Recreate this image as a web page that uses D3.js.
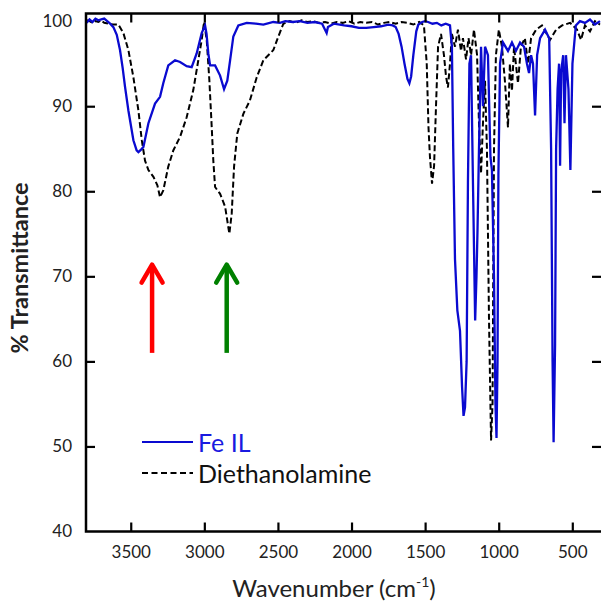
<!DOCTYPE html>
<html><head><meta charset="utf-8">
<script src="https://cdn.jsdelivr.net/npm/d3@7"></script>
<style>
html,body{margin:0;padding:0;background:#fff;}
text{font-family:Lato,"Open Sans",sans-serif;}
</style></head>
<body><svg id="chart" width="601" height="604"></svg>
<script>
// ---- data ----
const xTicks = [3500, 3000, 2500, 2000, 1500, 1000, 500];
const yTicks = [40, 50, 60, 70, 80, 90, 100];
const seriesNames = ["Fe IL", "Diethanolamine"];
const arrowWavenumbers = [3355, 2848];
const arrowRange = [61, 71.5];

// Fe IL: [wavenumber, %T]
const feIL = [
[3800,99.8],[3780,100.2],[3760,99.9],[3740,100.3],[3720,100.1],[3700,100.2],[3680,100.3],[3660,100.0],[3640,99.7],
[3618,99.3],[3595,98.4],[3573,96.6],[3555,94.5],[3539,92.3],[3516,89.5],[3482,86.0],[3460,84.8],[3448,84.6],[3430,84.9],
[3414,85.2],[3380,88.0],[3335,90.3],[3301,91.1],[3279,92.7],[3245,94.8],[3199,95.4],[3165,95.2],[3120,94.7],[3086,94.6],
[3052,96.2],[3018,98.6],[2995,99.5],[2985,98.5],[2973,96.2],[2961,94.8],[2927,94.8],[2893,93.6],[2866,92.0],[2844,93.0],
[2825,95.4],[2803,98.2],[2769,99.5],[2712,99.8],[2650,99.7],[2599,99.6],[2531,99.9],[2486,99.8],[2450,100.0],[2400,99.9],
[2350,100.0],[2300,99.8],[2250,99.9],[2200,99.7],[2180,99.0],[2169,98.6],[2160,99.3],[2120,99.7],[2050,99.5],[2000,99.4],
[1950,99.2],[1900,99.2],[1850,99.3],[1800,99.4],[1750,99.6],[1720,99.5],[1700,99.3],[1680,98.5],[1660,97.0],[1640,95.0],
[1620,93.2],[1607,92.7],[1595,93.5],[1580,96.0],[1560,98.8],[1546,99.6],[1520,99.9],[1500,100.0],[1480,99.9],[1450,99.7],
[1420,99.8],[1390,99.5],[1360,99.7],[1331,99.5],[1318,97.0],[1309,85.0],[1297,72.0],[1281,66.0],[1263,63.6],[1249,57.0],
[1239,53.6],[1229,54.6],[1218,60.0],[1209,81.0],[1199,95.0],[1188,96.0],[1174,80.0],[1160,64.8],[1151,70.0],[1144,75.4],
[1134,85.0],[1120,97.0],[1107,90.0],[1093,97.0],[1073,96.0],[1056,84.0],[1046,82.5],[1032,70.0],[1022,55.0],[1015,51.0],
[1008,60.0],[1002,82.0],[991,95.0],[971,97.5],[937,96.5],[910,97.5],[883,96.5],[855,97.5],[828,97.0],[808,95.0],[794,93.9],
[780,96.0],[767,95.0],[753,88.9],[739,96.0],[719,98.0],[685,99.0],[657,98.0],[644,85.0],[634,60.0],[627,50.5],[617,62.0],
[610,85.0],[600,92.0],[590,95.0],[583,83.0],[576,94.0],[562,96.0],[553,88.0],[543,96.0],[526,92.0],[513,82.5],[499,95.0],
[476,99.5],[448,100.0],[414,99.8],[380,100.2],[346,99.6],[312,100.0]
];

// Diethanolamine: [wavenumber, %T]
const dea = [
[3800,100.1],[3780,100.0],[3760,99.8],[3740,100.0],[3720,99.9],[3700,100.1],[3680,99.8],[3650,99.7],[3620,99.6],[3584,99.6],
[3550,98.6],[3516,96.6],[3482,93.4],[3448,89.5],[3425,86.0],[3403,83.6],[3380,82.5],[3346,81.7],[3319,80.7],[3301,79.3],
[3279,80.1],[3245,82.9],[3211,84.8],[3165,86.4],[3120,88.7],[3075,91.9],[3041,95.4],[3018,97.8],[3002,99.9],[2984,97.8],
[2966,93.1],[2950,87.6],[2939,83.6],[2927,80.5],[2893,79.7],[2859,78.2],[2830,75.0],[2814,77.4],[2798,82.9],[2776,86.8],
[2735,89.1],[2690,90.7],[2644,93.4],[2599,95.4],[2531,96.6],[2497,98.2],[2463,99.7],[2420,100.0],[2380,99.8],[2340,100.1],
[2300,99.9],[2260,100.0],[2220,99.8],[2180,99.9],[2140,99.7],[2100,99.9],[2060,99.8],[2020,100.0],[1980,99.7],[1940,99.9],
[1900,99.8],[1860,99.9],[1820,99.6],[1780,99.8],[1740,99.9],[1700,99.7],[1660,99.9],[1620,99.8],[1580,99.6],[1540,99.9],
[1508,99.5],[1489,95.0],[1477,87.5],[1467,84.0],[1453,80.9],[1439,83.0],[1426,90.0],[1412,97.0],[1392,98.5],[1372,96.0],
[1358,93.5],[1345,92.2],[1331,95.0],[1318,98.5],[1297,97.0],[1277,99.0],[1256,96.5],[1243,98.0],[1222,95.5],[1205,98.0],
[1188,96.0],[1168,99.0],[1147,96.0],[1134,88.0],[1120,82.1],[1107,88.0],[1093,93.0],[1080,85.0],[1066,65.0],[1052,50.7],
[1042,55.0],[1032,85.0],[1019,96.0],[999,99.0],[978,97.0],[958,93.0],[937,87.5],[924,95.0],[910,91.8],[896,97.0],[869,92.7],
[849,97.0],[822,98.0],[801,95.0],[780,98.0],[746,99.0],[706,99.5],[651,97.8],[610,99.0],[569,99.5],[515,99.8],[468,99.0],
[441,97.8],[414,99.5],[380,98.8],[346,100.0],[312,99.6]
];

// ---- chart ----
const svg = d3.select("#chart");
const L = 86, R = 601, T = 13.5, B = 531.5;
const x = d3.scaleLinear().domain([3804, 305]).range([L, R]);
const y = d3.scaleLinear().domain([40, 100.9]).range([B, T]);

svg.append("clipPath").attr("id","clip").append("rect")
  .attr("x", L).attr("y", T).attr("width", R - L).attr("height", B - T);

const line = d3.line().x(d => x(d[0])).y(d => y(d[1]));
const plot = svg.append("g").attr("clip-path","url(#clip)");
plot.append("path").datum(dea).attr("d", line).attr("fill","none")
  .attr("stroke","#000").attr("stroke-width",2).attr("stroke-dasharray","6,3");
plot.append("path").datum(feIL).attr("d", line).attr("fill","none")
  .attr("stroke","#0a0ad0").attr("stroke-width",2.3);

// axes
const tickLen = 9;
const fmt = d3.format("d");
const axB = svg.append("g").attr("transform",`translate(0,${B})`)
  .call(d3.axisBottom(x).tickValues(xTicks).tickFormat(fmt).tickSizeInner(-tickLen).tickSizeOuter(0).tickPadding(14));
const axT = svg.append("g").attr("transform",`translate(0,${T})`)
  .call(d3.axisTop(x).tickValues(xTicks).tickSizeInner(-tickLen).tickSizeOuter(0).tickFormat(""));
const axL = svg.append("g").attr("transform",`translate(${L},0)`)
  .call(d3.axisLeft(y).tickValues(yTicks).tickFormat(fmt).tickSizeInner(-tickLen).tickSizeOuter(0).tickPadding(14));
const axR = svg.append("g").attr("transform",`translate(${R},0)`)
  .call(d3.axisRight(y).tickValues(yTicks).tickSizeInner(-tickLen).tickSizeOuter(0).tickFormat(""));
[axB, axT, axL, axR].forEach(a => {
  a.select(".domain").remove();
  a.selectAll(".tick line").attr("stroke","#000").attr("stroke-width",2.2);
  a.selectAll(".tick text").attr("font-size",17).attr("fill","#222")
    .style("font-family","Lato, 'Open Sans', sans-serif");
});
axL.selectAll(".tick line").filter(d => d === 40 || d === 100).remove();
axR.selectAll(".tick line").filter(d => d === 40 || d === 100).remove();
svg.append("rect").attr("x",L).attr("y",T).attr("width",R-L+3).attr("height",B-T)
  .attr("fill","none").attr("stroke","#000").attr("stroke-width",2.5);

// axis titles
const xt = svg.append("text").attr("x",334).attr("y",597).attr("text-anchor","middle")
  .attr("font-size",24).attr("fill","#222");
xt.append("tspan").text("Wavenumber (cm");
xt.append("tspan").attr("font-size",14).attr("dy",-10).text("-1");
xt.append("tspan").attr("dy",10).text(")");
svg.append("text").attr("transform","translate(28,268) rotate(-90)").attr("text-anchor","middle")
  .attr("font-size",23.5).attr("font-weight","bold").attr("fill","#222").text("% Transmittance");

// arrows
const arrowColors = ["#ff0000","#008000"];
arrowWavenumbers.forEach((w,i) => {
  const ax = x(w), y0 = y(arrowRange[0]), y1 = y(arrowRange[1]);
  const g = svg.append("g").attr("stroke",arrowColors[i]).attr("stroke-width",4.5).attr("fill","none")
    .attr("stroke-linejoin","round");
  g.append("line").attr("x1",ax).attr("x2",ax).attr("y1",y0).attr("y2",y1+2);
  g.append("path").attr("d",`M${ax-10.5},${y1+19} L${ax},${y1+1} L${ax+10.5},${y1+19}`).attr("stroke-linecap","round");
});

// legend
const legColors = ["#0a0ad0","#000"];
const legText = ["#1a1ae0","#111"];
seriesNames.forEach((n,i) => {
  const ly = 442 + i*31;
  svg.append("line").attr("x1",142).attr("x2",193).attr("y1",ly).attr("y2",ly)
    .attr("stroke",legColors[i]).attr("stroke-width",2.2).attr("stroke-dasharray", i ? "6,3.5" : null);
  svg.append("text").attr("x",198).attr("y",ly+10).attr("font-size",25).attr("fill",legText[i]).text(n);
});
</script></body></html>
